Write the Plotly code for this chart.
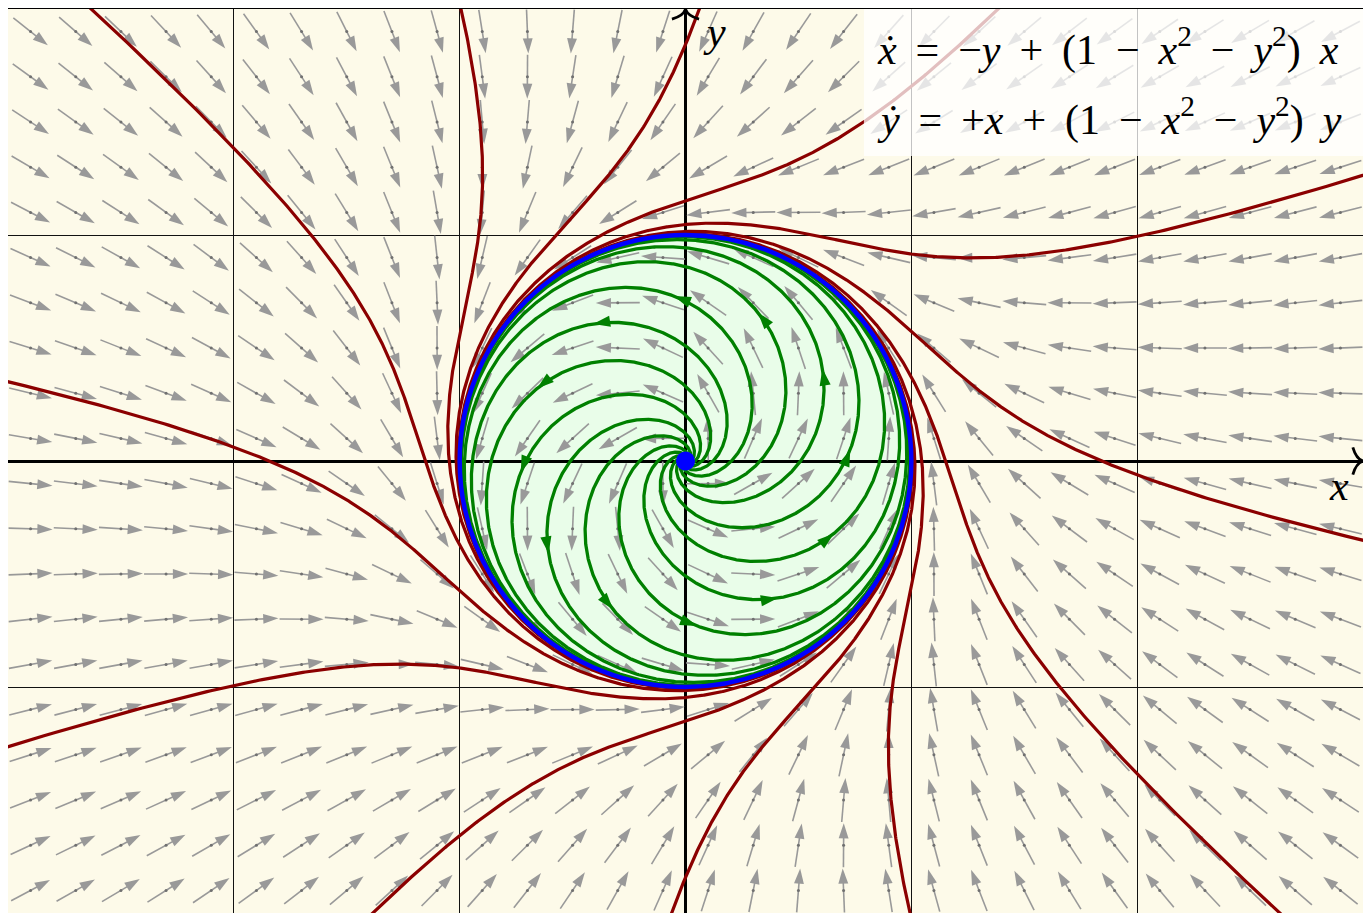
import numpy as np
import plotly.graph_objects as go

# ---- data -------------------------------------------------------------
# sample points of the direction field (centres of the grey arrows)
field_x = [-2.9, -2.7, -2.5, -2.3, -2.1, -1.9, -1.7, -1.5, -1.3, -1.1,
           -0.9, -0.7, -0.5, -0.3, -0.1, 0.1, 0.3, 0.5, 0.7, 0.9,
           1.1, 1.3, 1.5, 1.7, 1.9, 2.1, 2.3, 2.5, 2.7, 2.9]
field_y = [-1.9, -1.7, -1.5, -1.3, -1.1, -0.9, -0.7, -0.5, -0.3, -0.1,
           0.1, 0.3, 0.5, 0.7, 0.9, 1.1, 1.3, 1.5, 1.7, 1.9]

# green orbits: polar angle (deg) where each crosses r = 1/sqrt(2)
green_angles = [0, 30, 60, 90, 120, 150, 180, 210, 240, 270, 300, 330]
# red orbits: asymptotic direction (deg) from which each comes in from infinity
red_angles = [20, 50, 80, 110, 140, 170, 200, 230, 260, 290, 320, 350]

cycle_radius = 1.0
x_grid = [-3, -2, -1, 0, 1, 2, 3]
y_grid = [-2, -1, 0, 1, 2]

sp = " \u2009"  # math-like spacing around operators
eq_line1 = (f"<i>ẋ</i>{sp}={sp}−<i>y</i>{sp}+{sp}(1{sp}−{sp}<i>x</i><sup>2</sup>"
            f"{sp}−{sp}<i>y</i><sup>2</sup>){sp}<i>x</i>")
eq_line2 = (f"<i>ẏ</i>{sp}={sp}+<i>x</i>{sp}+{sp}(1{sp}−{sp}<i>x</i><sup>2</sup>"
            f"{sp}−{sp}<i>y</i><sup>2</sup>){sp}<i>y</i>")

# colours
BG_OUT = "#fdfae9"
BG_IN = "#e9fde9"
ARROW = "#999999"
RED = "#8b0000"
GREEN = "#008000"
BLUE = "#0000ff"


def flow(p):
    x, y = p
    k = 1.0 - x * x - y * y
    return np.array([-y + k * x, x + k * y])


def integrate(p0, dt, steps, stop=None):
    p = np.array(p0, dtype=float)
    pts = [p]
    for _ in range(steps):
        k1 = flow(p)
        k2 = flow(p + dt / 2 * k1)
        k3 = flow(p + dt / 2 * k2)
        k4 = flow(p + dt * k3)
        p = p + dt / 6 * (k1 + 2 * k2 + 2 * k3 + k4)
        pts.append(p)
        if stop is not None and stop(p):
            break
    return np.array(pts)


fig = go.Figure()

# ---- direction field ---------------------------------------------------
half = 0.0975
sx, sy, hx, hy, hang, cx, cy = [], [], [], [], [], [], []
for y0 in field_y:
    for x0 in field_x:
        u, v = flow((x0, y0))
        n = np.hypot(u, v)
        u, v = u / n, v / n
        sx += [x0 - half * u, x0 + (half - 0.03) * u, None]
        sy += [y0 - half * v, y0 + (half - 0.03) * v, None]
        hx.append(x0 + half * u)
        hy.append(y0 + half * v)
        hang.append(np.degrees(np.arctan2(u, v)))
        cx.append(x0)
        cy.append(y0)

fig.add_trace(go.Scatter(x=sx, y=sy, mode="lines",
                         line=dict(color=ARROW, width=1.6),
                         hoverinfo="skip", showlegend=False))
fig.add_trace(go.Scatter(x=hx, y=hy, mode="markers",
                         marker=dict(symbol="arrow", size=16, angle=hang,
                                     color=ARROW, line=dict(width=0)),
                         hoverinfo="skip", showlegend=False))
fig.add_trace(go.Scatter(x=cx, y=cy, mode="markers",
                         marker=dict(symbol="circle", size=3, color="#707070",
                                     line=dict(width=0)),
                         hoverinfo="skip", showlegend=False))

# ---- red orbits (outside the limit cycle) --------------------------------
rx, ry = [], []
r_start = 4.5
for a in red_angles:
    th = np.radians(a) + 0.5 * np.log(r_start ** 2 / (r_start ** 2 - 1))
    pts = integrate((r_start * np.cos(th), r_start * np.sin(th)), 0.002, 1500)
    rx += list(pts[:, 0]) + [None]
    ry += list(pts[:, 1]) + [None]
fig.add_trace(go.Scatter(x=rx, y=ry, mode="lines",
                         line=dict(color=RED, width=3.2),
                         hoverinfo="skip", showlegend=False))

# ---- green orbits (inside the limit cycle) -------------------------------
gx, gy, ax, ay, aang = [], [], [], [], []
r_mid = 1 / np.sqrt(2)
for a in green_angles:
    p0 = (r_mid * np.cos(np.radians(a)), r_mid * np.sin(np.radians(a)))
    back = integrate(p0, -0.005, 1200, stop=lambda p: np.hypot(*p) < 0.03)
    fwd = integrate(p0, 0.005, 700)
    pts = np.vstack([back[::-1], fwd[1:]])
    gx += list(pts[:, 0]) + [None]
    gy += list(pts[:, 1]) + [None]
    tip = fwd[14]
    u, v = flow(tip)
    ax.append(tip[0])
    ay.append(tip[1])
    aang.append(np.degrees(np.arctan2(u, v)))
fig.add_trace(go.Scatter(x=gx, y=gy, mode="lines",
                         line=dict(color=GREEN, width=3.3),
                         hoverinfo="skip", showlegend=False))
fig.add_trace(go.Scatter(x=ax, y=ay, mode="markers",
                         marker=dict(symbol="arrow", size=18, angle=aang,
                                     color=GREEN, line=dict(width=0)),
                         hoverinfo="skip", showlegend=False))

# fixed point at the origin
fig.add_trace(go.Scatter(x=[0], y=[0], mode="markers",
                         marker=dict(size=19, color=BLUE, line=dict(width=0)),
                         hoverinfo="skip", showlegend=False))

# ---- shapes --------------------------------------------------------------
R = cycle_radius
fig.add_shape(type="circle", xref="x", yref="y", x0=-R, y0=-R, x1=R, y1=R,
              fillcolor=BG_IN, line=dict(width=0), layer="below")
fig.add_shape(type="circle", xref="x", yref="y", x0=-R, y0=-R, x1=R, y1=R,
              line=dict(color=BLUE, width=4.5), layer="above")
# backing box for the equations
fig.add_shape(type="rect", xref="x", yref="y", x0=0.79, x1=3.0, y0=1.35, y1=2.0,
              fillcolor="rgba(255,255,255,0.75)", line=dict(width=0), layer="above")
# arrow tips of the axes
xm, ym = x_grid[-1], y_grid[-1]
fig.add_shape(type="path", xref="x", yref="y", layer="above",
              path=f"M{xm-0.045},{0.06} Q{xm-0.03},{0.008} {xm},0 "
                   f"Q{xm-0.03},{-0.008} {xm-0.045},{-0.06}",
              line=dict(color="black", width=2.8))
fig.add_shape(type="path", xref="x", yref="y", layer="above",
              path=f"M{-0.06},{ym-0.045} Q{-0.008},{ym-0.03} 0,{ym} "
                   f"Q{0.008},{ym-0.03} {0.06},{ym-0.045}",
              line=dict(color="black", width=2.8))

# ---- text ----------------------------------------------------------------
font = dict(family="Liberation Serif, DejaVu Serif, serif", size=42, color="black")
fig.add_annotation(x=0.84, y=1.832, xref="x", yref="y", text=eq_line1,
                   showarrow=False, xanchor="left", yanchor="middle", font=font)
fig.add_annotation(x=0.84, y=1.523, xref="x", yref="y", text=eq_line2,
                   showarrow=False, xanchor="left", yanchor="middle", font=font)
fig.add_annotation(x=2.895, y=-0.11, xref="x", yref="y", text="<i>x</i>",
                   showarrow=False, xanchor="center", yanchor="middle", font=font)
fig.add_annotation(x=0.128, y=1.9, xref="x", yref="y", text="<i>y</i>",
                   showarrow=False, xanchor="center", yanchor="middle", font=font)

# ---- layout --------------------------------------------------------------
axis_common = dict(showticklabels=False, ticks="", showgrid=True,
                   gridcolor="#111111", gridwidth=1,
                   zeroline=True, zerolinecolor="black", zerolinewidth=2.8,
                   showline=True, linecolor="black", linewidth=1, mirror=True)
fig.update_xaxes(range=[x_grid[0], x_grid[-1]], tickvals=x_grid, **axis_common)
fig.update_yaxes(range=[y_grid[0], y_grid[-1]], tickvals=y_grid, **axis_common)
fig.update_layout(width=1371, height=913,
                  margin=dict(l=0, r=16, t=1, b=8, autoexpand=False),
                  plot_bgcolor=BG_OUT, paper_bgcolor="white",
                  showlegend=False)

fig.write_html("out.html")
